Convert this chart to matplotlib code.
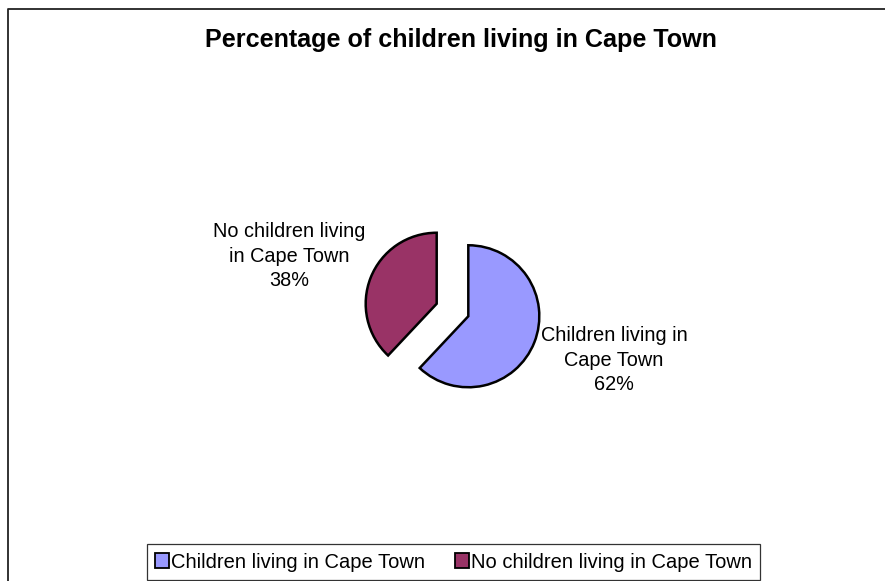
import matplotlib.pyplot as plt
from matplotlib.lines import Line2D
from matplotlib.patches import Patch

# data
labels = ['Children living in Cape Town', 'No children living in Cape Town']
label_lines = ['Children living in\nCape Town', 'No children living\nin Cape Town']
values = [62, 38]
colors = ['#9999FF', '#993366']

W, H = 885, 581
plt.rcParams['font.family'] = ['Liberation Sans', 'DejaVu Sans']

fig = plt.figure(figsize=(W / 100, H / 100), dpi=100)
ax = fig.add_axes([0, 0, 1, 1])


def py(y):
    # pixel row (from top) -> data y
    return H - y


# outer chart border (runs off the right and bottom edge)
fig.add_artist(Line2D([8 / W, 8 / W, 1.0], [0.0, 1 - 9 / H, 1 - 9 / H],
                      color='#222222', lw=1.3, transform=fig.transFigure))

ax.text(461, py(40), 'Percentage of children living in Cape Town',
        ha='center', va='center', fontsize=18.1, fontweight='bold')

# explode is in data units here (axes are in pixels)
wedges, _ = ax.pie(values, colors=colors, radius=71, center=(452.5, py(310)),
                   startangle=90, counterclock=False, explode=[17, 17],
                   wedgeprops=dict(edgecolor='black', linewidth=1.8),
                   frame=True)
ax.set_xlim(0, W)
ax.set_ylim(0, H)
ax.set_aspect('equal')
ax.axis('off')

total = sum(values)
label_pos = [(614, 360), (289, 256)]
for txt, v, (x, y) in zip(label_lines, values, label_pos):
    ax.text(x, py(y), '{}\n{:.0f}%'.format(txt, 100 * v / total),
            ha='center', va='center', fontsize=14.3, linespacing=1.38)

handles = [Patch(facecolor=c, edgecolor='black', linewidth=1.3) for c in colors]
leg = fig.legend(handles, labels, loc='center', bbox_to_anchor=(453.5 / W, 1 - 562 / H),
                 ncol=2, fontsize=14.5, frameon=True, fancybox=False,
                 handlelength=0.7, handleheight=0.7, handletextpad=0.1,
                 columnspacing=1.45, borderpad=0.4, borderaxespad=0)
leg.get_frame().set_edgecolor('black')
leg.get_frame().set_linewidth(0.9)

fig.savefig('out.png', dpi=100)
